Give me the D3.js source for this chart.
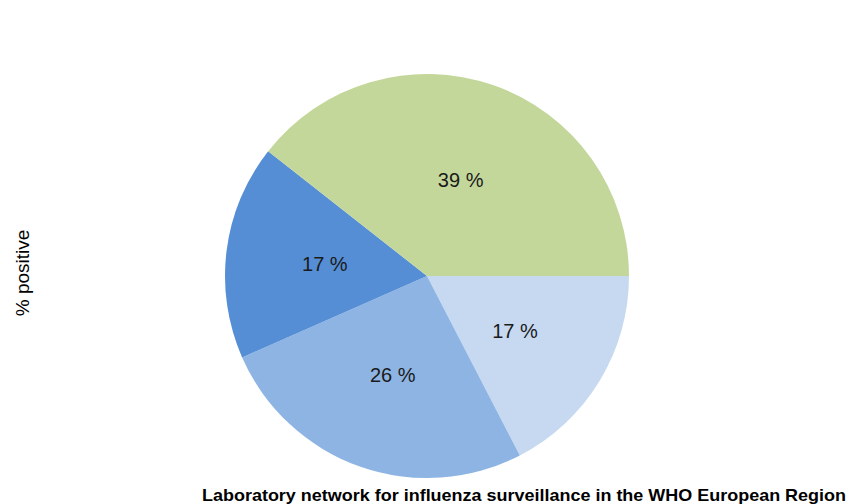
<!DOCTYPE html>
<html><head><meta charset="utf-8">
<script src="https://cdn.jsdelivr.net/npm/d3@7"></script>
<style>body{margin:0;background:#fff}svg{display:block}text{font-family:"Liberation Sans",Arial,sans-serif}</style>
</head><body>
<svg id="c" width="847" height="504"></svg>
<script>
const categories = ["Slice A", "Slice B", "Slice C", "Slice D"];
const values = [17.4, 26.0, 17.2, 39.4];
const labels = ["17 %", "26 %", "17 %", "39 %"];
const colors = ["#c6d9f1", "#8eb4e3", "#558ed5", "#c4d79b"];
const yTitle = "% positive";
const xTitle = "Laboratory network for influenza surveillance in the WHO European Region";

const svg = d3.select("#c");
const cx = 427, cy = 276, R = 202;
const pie = d3.pie().sort(null).value(d => d).startAngle(Math.PI/2).endAngle(Math.PI/2 + 2*Math.PI);
const arcs = pie(values);
const arc = d3.arc().innerRadius(0).outerRadius(R);
const labelArc = d3.arc().innerRadius(103).outerRadius(103);
const g = svg.append("g").attr("transform", `translate(${cx},${cy})`);
g.selectAll("path").data(arcs).join("path")
  .attr("d", arc).attr("fill", (d,i) => colors[i]);
g.selectAll("text").data(arcs).join("text")
  .attr("transform", d => `translate(${labelArc.centroid(d)})`)
  .attr("text-anchor", "middle").attr("dy", "0.42em")
  .attr("font-size", 20).attr("fill", "#1a1a1a")
  .text((d,i) => labels[i]);

svg.append("text").attr("transform", "translate(29,273) rotate(-90)")
  .attr("text-anchor", "middle").attr("font-size", 19).attr("fill", "#000").text(yTitle);
svg.append("text").attr("x", 202).attr("y", 501)
  .attr("font-size", 17).attr("font-weight", "bold").attr("fill", "#000")
  .attr("textLength", 644).attr("lengthAdjust", "spacingAndGlyphs").text(xTitle);
</script>
</body></html>
